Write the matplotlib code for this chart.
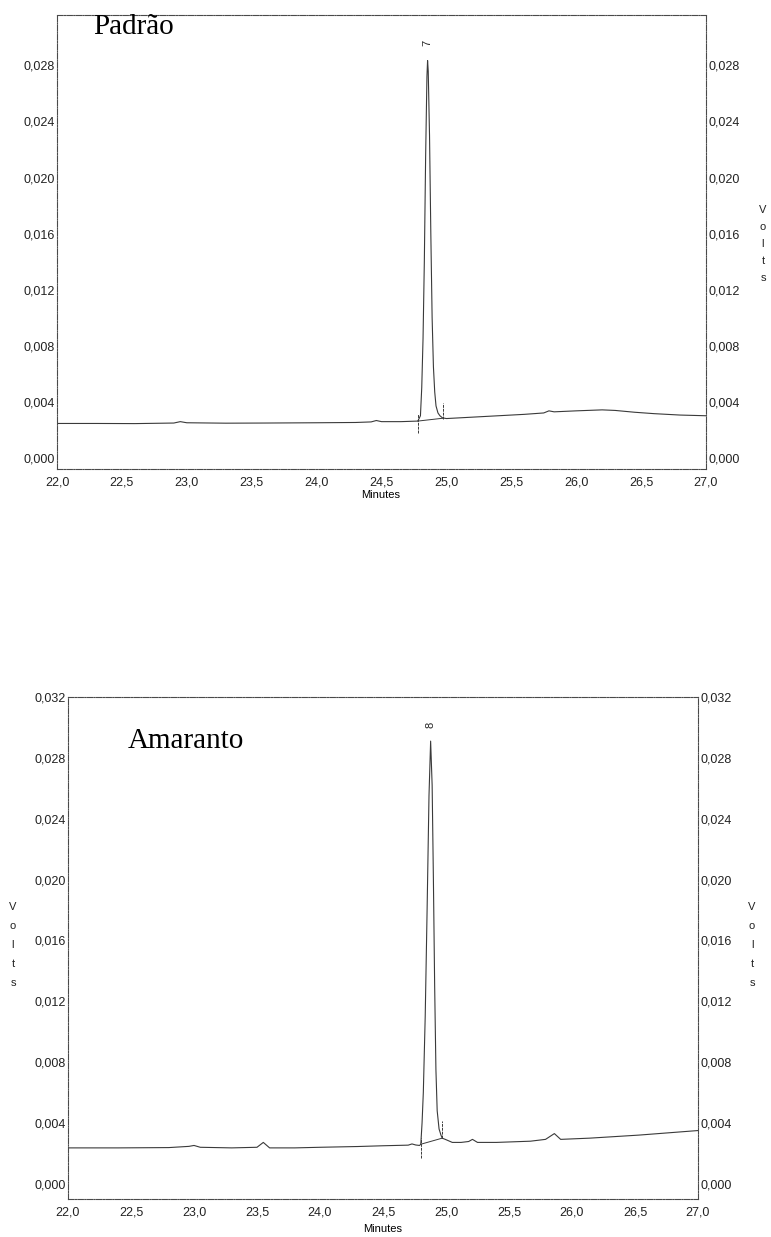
import matplotlib
matplotlib.use("Agg")
import matplotlib.pyplot as plt
from matplotlib.ticker import FuncFormatter, MultipleLocator

# ---- chromatogram data (time in minutes, signal in volts) ----
time_std = [22.00, 22.30, 22.60, 22.90, 22.95, 23.00, 23.30, 23.60, 24.00, 24.30,
            24.42, 24.46, 24.50, 24.65, 24.78, 24.80, 24.81, 24.82, 24.83, 24.84,
            24.85, 24.855, 24.86, 24.87, 24.88, 24.89, 24.90, 24.91, 24.92, 24.935,
            24.95, 24.97, 25.00, 25.20, 25.40, 25.60, 25.75, 25.79, 25.83, 26.00,
            26.20, 26.30, 26.45, 26.60, 26.80, 27.00]
volts_std = [0.00245, 0.00245, 0.00244, 0.00248, 0.00258, 0.00250, 0.00247, 0.00248, 0.00250, 0.00252,
             0.00256, 0.00266, 0.00258, 0.00258, 0.00262, 0.00300, 0.00500, 0.00850, 0.01400, 0.02150,
             0.02720, 0.02835, 0.02760, 0.02300, 0.01600, 0.01000, 0.00650, 0.00470, 0.00370, 0.00320,
             0.00300, 0.00285, 0.00280, 0.00290, 0.00300, 0.00310, 0.00320, 0.00335, 0.00328, 0.00335,
             0.00342, 0.00338, 0.00325, 0.00315, 0.00305, 0.00300]

time_ama = [22.00, 22.40, 22.80, 22.96, 23.00, 23.05, 23.30, 23.50, 23.55, 23.60,
            23.80, 24.00, 24.30, 24.50, 24.70, 24.73, 24.76, 24.79, 24.80, 24.81,
            24.82, 24.835, 24.85, 24.865, 24.878, 24.89, 24.90, 24.91, 24.92, 24.93,
            24.945, 24.96, 24.97, 25.00, 25.05, 25.12, 25.18, 25.21, 25.25, 25.40,
            25.67, 25.79, 25.86, 25.91, 26.14, 26.53, 27.00]
volts_ama = [0.00236, 0.00236, 0.00238, 0.00246, 0.00252, 0.00240, 0.00236, 0.00240, 0.00272, 0.00236,
             0.00236, 0.00240, 0.00245, 0.00250, 0.00254, 0.00262, 0.00255, 0.00252, 0.00260, 0.00400,
             0.00600, 0.01100, 0.01800, 0.02550, 0.02910, 0.02620, 0.02000, 0.01300, 0.00750, 0.00480,
             0.00360, 0.00320, 0.00300, 0.00290, 0.00272, 0.00272, 0.00278, 0.00292, 0.00272, 0.00272,
             0.00280, 0.00292, 0.00330, 0.00292, 0.00300, 0.00320, 0.00350]

# integration events: start/end tick marks and the baseline joining them
std_event_t = [24.78, 24.97]
std_event_lo = [0.00180, 0.00280]
std_event_hi = [0.00310, 0.00390]
std_base_v = [0.00262, 0.00282]

ama_event_t = [24.80, 24.97]
ama_event_lo = [0.00170, 0.00300]
ama_event_hi = [0.00300, 0.00410]
ama_base_v = [0.00260, 0.00300]

# peak numbers
std_peak = ("7", 24.855, 0.0296)
ama_peak = ("8", 24.878, 0.0302)

x_ticks = [22.0, 22.5, 23.0, 23.5, 24.0, 24.5, 25.0, 25.5, 26.0, 26.5, 27.0]
std_y_ticks = [0.000, 0.004, 0.008, 0.012, 0.016, 0.020, 0.024, 0.028]
ama_y_ticks = [0.000, 0.004, 0.008, 0.012, 0.016, 0.020, 0.024, 0.028, 0.032]

W, H = 771, 1237
fig = plt.figure(figsize=(W / 100, H / 100), dpi=100)
fig.patch.set_facecolor("white")

SANS = ["Liberation Sans", "DejaVu Sans"]
SERIF = ["Liberation Serif", "DejaVu Serif"]
TRACE = "#3a3a3a"
FRAME = "#4a4a4a"


def px_axes(left, top, right, bottom):
    return fig.add_axes([left / W, 1 - bottom / H, (right - left) / W, (bottom - top) / H])


def comma(fmt):
    return FuncFormatter(lambda v, p: (fmt % v).replace(".", ","))


def style(ax, ylim, yticks):
    ax.set_xlim(22.0, 27.0)
    ax.set_ylim(*ylim)
    ax.set_xticks(x_ticks)
    ax.set_yticks(yticks)
    ax.xaxis.set_major_formatter(comma("%.1f"))
    ax.yaxis.set_major_formatter(comma("%.3f"))
    for s in ax.spines.values():
        s.set_linestyle((0, (5, 1.2, 1, 1.2)))
        s.set_linewidth(0.8)
        s.set_color(FRAME)
    ax.tick_params(axis="both", length=0, labelsize=9, colors="#222222")
    ax.tick_params(axis="x", pad=5.5)
    ax.tick_params(axis="y", pad=1.5, labelright=True, right=True)
    for lab in ax.get_xticklabels() + ax.get_yticklabels():
        lab.set_family(SANS)


def draw(ax, t, v, ev_t, ev_lo, ev_hi, base_v, peak):
    ax.plot(t, v, color=TRACE, lw=0.8, solid_joinstyle="round")
    ax.vlines(ev_t, ev_lo, ev_hi, color=TRACE, lw=0.7, linestyles=(0, (3, 1)))
    ax.plot(ev_t, base_v, color=TRACE, lw=0.7)
    label, px, py = peak
    ax.text(px, py, label, rotation=90, ha="center", va="center",
            fontsize=8, family=SANS, color="#222222")


def volts(x_px, y_top_px, step_px):
    for i, ch in enumerate("Volts"):
        fig.text(x_px / W, 1 - (y_top_px + i * step_px) / H, ch, ha="center", va="center",
                 fontsize=8, family=SANS, color="#222222")


# ---- upper chromatogram ----
ax1 = px_axes(57, 15, 706, 469)
style(ax1, (-0.0008, 0.0316), std_y_ticks)
draw(ax1, time_std, volts_std, std_event_t, std_event_lo, std_event_hi, std_base_v, std_peak)
fig.text(381 / W, 1 - 495 / H, "Minutes", ha="center", va="center", fontsize=8, family=SANS)
fig.text(93 / W, 1 - 34 / H, "Padrão", ha="left", va="baseline", fontsize=21, family=SERIF)
volts(763, 210, 17)

# ---- lower chromatogram ----
ax2 = px_axes(68, 697, 698, 1199)
style(ax2, (-0.001, 0.032), ama_y_ticks)
draw(ax2, time_ama, volts_ama, ama_event_t, ama_event_lo, ama_event_hi, ama_base_v, ama_peak)
fig.text(383 / W, 1 - 1229 / H, "Minutes", ha="center", va="center", fontsize=8, family=SANS)
fig.text(128 / W, 1 - 748 / H, "Amaranto", ha="left", va="baseline", fontsize=21, family=SERIF)
volts(13, 907, 19)
volts(752, 907, 19)

fig.savefig("out.png", dpi=100, facecolor="white")
